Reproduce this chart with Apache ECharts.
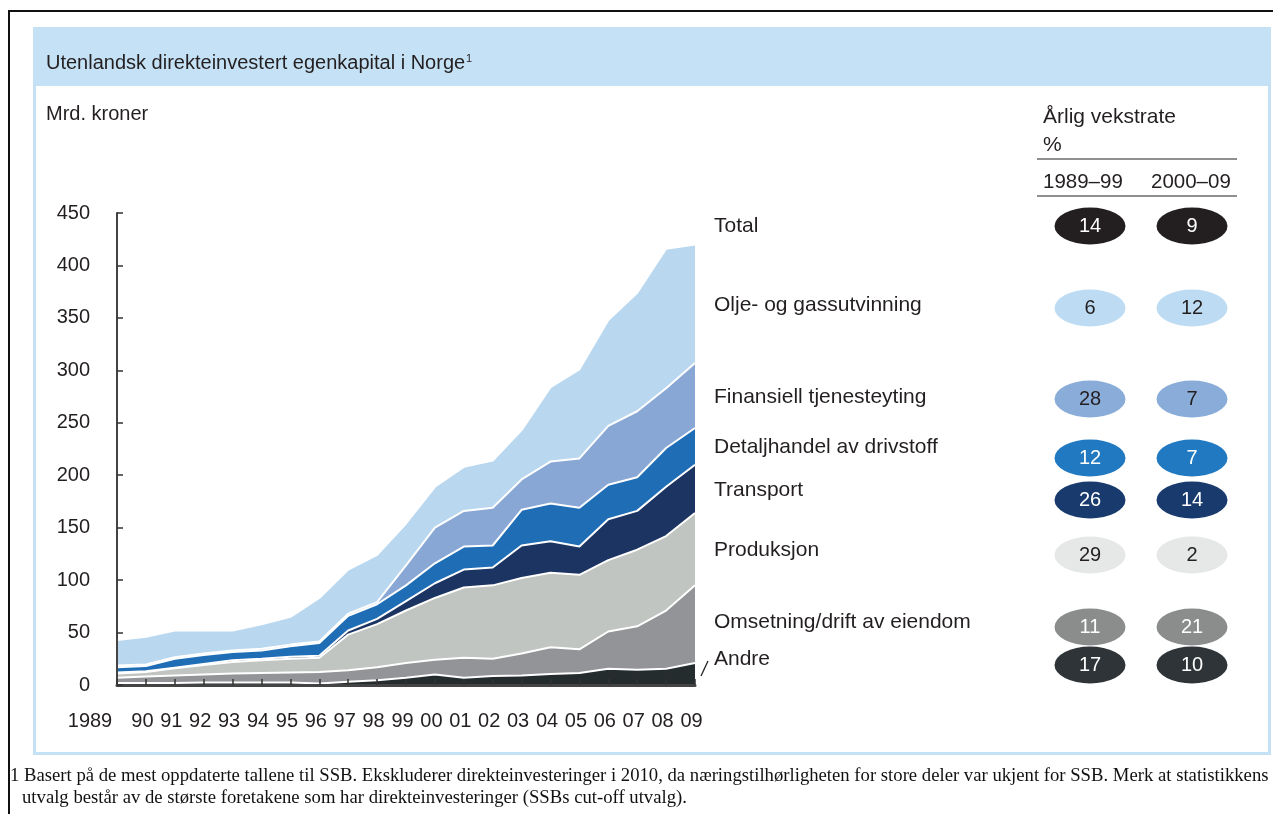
<!DOCTYPE html>
<html>
<head>
<meta charset="utf-8">
<title>Utenlandsk direkteinvestert egenkapital i Norge</title>
<script src="https://cdn.jsdelivr.net/npm/echarts@6/dist/echarts.min.js"></script>
<style>
  body { margin: 0; width: 1273px; height: 814px; position: relative; overflow: hidden; background: #fff; }
  #frame { position: absolute; left: 8px; top: 10px; width: 1280px; height: 820px; border-left: 2px solid #111; border-top: 2px solid #111; }
  #panel { position: absolute; left: 33px; top: 27px; width: 1232px; height: 722px; border: 3px solid #c5e1f5; }
  #head { position: absolute; left: 33px; top: 27px; width: 1238px; height: 59px; background: #c5e1f5; }
  #chart { position: absolute; left: 0; top: 0; width: 1273px; height: 814px; }
  #note { position: absolute; left: 10px; top: 764px; font-family: "Liberation Serif", serif; font-size: 18.7px; line-height: 22px; color: #111; white-space: nowrap; }
  #note div + div { padding-left: 12px; }
</style>
</head>
<body>
<div id="frame"></div>
<div id="panel"></div>
<div id="head"></div>
<div id="chart"></div>
<div id="note">
  <div>1 Basert på de mest oppdaterte tallene til SSB. Ekskluderer direkteinvesteringer i 2010, da næringstilhørligheten for store deler var ukjent for SSB. Merk at statistikkens</div>
  <div>utvalg består av de største foretakene som har direkteinvesteringer (SSBs cut-off utvalg).</div>
</div>
<script>
// years on the x axis
const years = ['1989', '90', '91', '92', '93', '94', '95', '96', '97', '98', '99',
  '00', '01', '02', '03', '04', '05', '06', '07', '08', '09'];

// Mrd. kroner (stacked bottom -> top)
const andre = [2, 2, 2, 2.5, 2.5, 2.5, 2.5, 1.5, 3, 4.5, 7, 10, 7, 8.5, 9, 10.5, 11.5, 15.5, 14.5, 15.5, 21];
const omsetning = [5, 6, 7, 7.5, 8.5, 9, 9.5, 11, 11, 12.5, 14, 14, 19, 16.5, 21, 25.5, 22.5, 35.5, 41.5, 55.5, 74];
const produksjon = [4, 4.5, 7, 9, 11, 12, 13, 13.5, 34, 41, 50, 59, 67, 70, 72, 71, 71, 68, 73, 71, 69];
const transport = [1, 0.5, 0.5, 1, 1.5, 1.5, 2, 2, 4, 5, 9, 14, 17, 17, 31, 30, 27, 39, 37, 47, 46];
const detaljhandel = [5, 5, 8.5, 8.5, 8, 8, 10, 12, 14, 14, 15, 19, 22, 21, 34, 36, 37, 33, 32, 37, 35];
const finansiell = [1.5, 1.5, 1.5, 1.5, 1.5, 1.5, 1.5, 1.5, 2, 2, 19, 34, 34, 36, 29, 40, 47, 56, 63, 57, 62];
const olje = [24.5, 26.5, 25.5, 22, 19, 23.5, 26.5, 41.5, 42, 45, 40, 39, 42, 45, 47, 71, 85, 101, 113, 133, 113];

// growth table on the right
const rowNames = ['Total', 'Olje- og gassutvinning', 'Finansiell tjenesteyting', 'Detaljhandel av drivstoff',
  'Transport', 'Produksjon', 'Omsetning/drift av eiendom', 'Andre'];
const rate8999 = [14, 6, 28, 12, 26, 29, 11, 17];
const rate0009 = [9, 12, 7, 7, 14, 2, 21, 10];
const periods = ['1989–99', '2000–09'];

// layout for the table rows
const labelY = [226, 305, 397, 447, 490, 550, 622, 659];
const ovalY = [226, 308, 399, 458, 500, 555, 627, 665];
const ovalFill = ['#231f20', '#bddcf3', '#8aacd9', '#2079c1', '#183a6d', '#e6e7e7', '#8b8d8d', '#2e3437'];
const ovalText = ['#fff', '#231f20', '#231f20', '#fff', '#fff', '#231f20', '#fff', '#fff'];

const font = '"Liberation Sans", Arial, sans-serif';
const ink = '#231f20';

const chart = echarts.init(document.getElementById('chart'));

function area(name, data, color, z) {
  return {
    name: name,
    type: 'line',
    stack: 'total',
    data: data,
    symbol: 'none',
    z: z,
    lineStyle: { color: '#fff', width: 2 },
    areaStyle: { color: color, opacity: 1 },
    emphasis: { disabled: true }
  };
}

function txt(text, x, y, size) {
  return {
    type: 'text',
    x: x,
    y: y,
    style: {
      text: text,
      font: size + 'px ' + font,
      fill: ink,
      verticalAlign: 'middle',
      textVerticalAlign: 'middle'
    }
  };
}

const graphics = [];
// series labels
rowNames.forEach((n, i) => graphics.push(txt(n, 714, labelY[i], 21)));
// table header
graphics.push(txt('Årlig vekstrate', 1043, 117, 21));
graphics.push(txt('%', 1043, 145, 21));
graphics.push(txt(periods[0], 1043, 182, 20.5));
graphics.push(txt(periods[1], 1151, 182, 20.5));
[159, 196].forEach(y => graphics.push({
  type: 'line',
  shape: { x1: 1037, y1: y, x2: 1237, y2: y },
  style: { stroke: ink, lineWidth: 1.2 }
}));
// ovals
[rate8999, rate0009].forEach((col, c) => {
  const cx = c === 0 ? 1090 : 1192;
  col.forEach((v, i) => {
    graphics.push({
      type: 'circle',
      x: cx,
      y: ovalY[i],
      scaleX: 35.5 / 18.5,
      shape: { cx: 0, cy: 0, r: 18.5 },
      style: { fill: ovalFill[i] }
    });
    graphics.push({
      type: 'text',
      x: cx,
      y: ovalY[i],
      z: 10,
      style: {
        text: String(v),
        font: '20px ' + font,
        fill: ovalText[i],
        align: 'center',
        textAlign: 'center',
        verticalAlign: 'middle',
        textVerticalAlign: 'middle'
      }
    });
  });
});
// small leader to "Andre"
graphics.push({
  type: 'line',
  shape: { x1: 701, y1: 676, x2: 708, y2: 661 },
  style: { stroke: ink, lineWidth: 1.3 }
});

chart.setOption({
  animation: false,
  title: [
    {
      text: '{t|Utenlandsk direkteinvestert egenkapital i Norge}{s|1}',
      left: 46,
      top: 53,
      padding: 0,
      textStyle: {
        fontWeight: 'normal',
        rich: {
          t: { fontFamily: font, fontSize: 20, fontWeight: 'normal', color: ink },
          s: { fontFamily: font, fontSize: 11, fontWeight: 'normal', color: ink, verticalAlign: 'top', padding: [0, 0, 9, 1] }
        }
      }
    },
    {
      text: 'Mrd. kroner',
      left: 46,
      top: 104,
      padding: 0,
      textStyle: { fontFamily: font, fontSize: 20, fontWeight: 'normal', color: ink }
    }
  ],
  grid: { left: 117, top: 213, width: 578, height: 472 },
  xAxis: {
    type: 'category',
    data: years,
    boundaryGap: false,
    z: 20,
    axisLine: { lineStyle: { color: '#444', width: 3 } },
    axisTick: { inside: true, length: 6, lineStyle: { color: '#333', width: 1.5 } },
    axisLabel: {
      interval: 0,
      margin: 26,
      formatter: (v, i) => (i === 0 ? '{f|' + v + '}' : '{n|' + v + '}'),
      rich: {
        f: { fontFamily: font, fontSize: 20, color: ink, padding: [0, 54, 0, 0] },
        n: { fontFamily: font, fontSize: 20, color: ink, padding: [0, 7, 0, 0] }
      }
    }
  },
  yAxis: {
    type: 'value',
    min: 0,
    max: 450,
    interval: 50,
    z: 20,
    axisLine: { show: true, lineStyle: { color: '#444', width: 2 } },
    axisTick: { show: true, inside: true, length: 6, lineStyle: { color: '#333', width: 1.5 } },
    axisLabel: { margin: 27, fontFamily: font, fontSize: 20, color: ink },
    splitLine: { show: false }
  },
  series: [
    area('Andre', andre, '#252c2e', 9),
    area('Omsetning/drift av eiendom', omsetning, '#929497', 8),
    area('Produksjon', produksjon, '#c1c5c1', 7),
    area('Transport', transport, '#1b3461', 6),
    area('Detaljhandel av drivstoff', detaljhandel, '#1f6db5', 5),
    area('Finansiell tjenesteyting', finansiell, '#88a7d5', 4),
    area('Olje- og gassutvinning', olje, '#b9d8f0', 3)
  ],
  graphic: graphics
});
</script>
</body>
</html>
